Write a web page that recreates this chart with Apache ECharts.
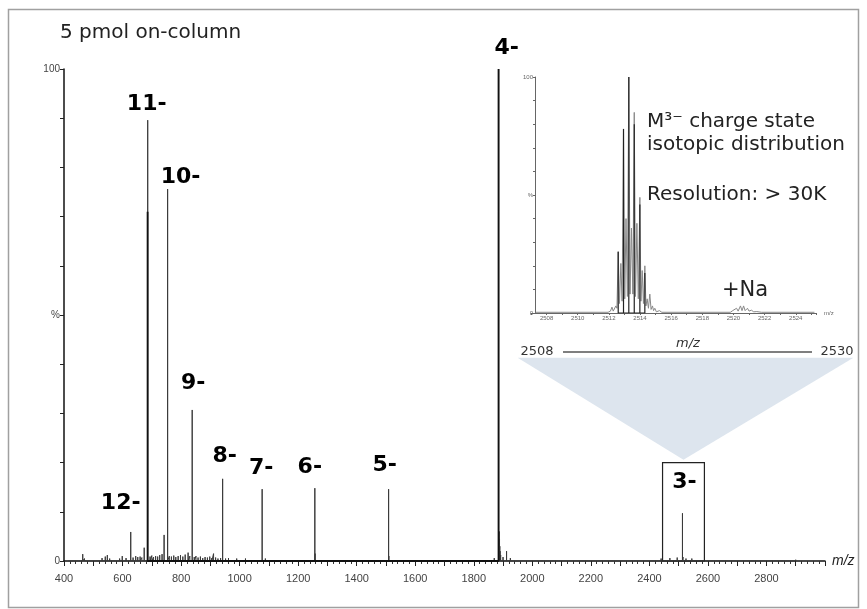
<!DOCTYPE html>
<html><head><meta charset="utf-8">
<script src="https://cdn.jsdelivr.net/npm/echarts@6/dist/echarts.min.js"></script>
<style>html,body{margin:0;padding:0;background:#fff}#c{width:867px;height:609px}</style>
</head><body><div id="c"></div>
<script>
// ---- main spectrum data ----
const chargeLabels = ['12-', '11-', '10-', '9-', '8-', '7-', '6-', '5-', '4-', '3-'];
const peakMz  = [628, 686, 754, 838, 942, 1077, 1257, 1509, 1885, 2513];
const peakInt = [5.9, 89.6, 75.6, 30.7, 16.7, 14.6, 14.8, 14.6, 100, 9.7];
const strongMz  = [685.6, 1884.6];
const strongInt = [71, 100];
const minorMz  = [464, 548, 599, 674, 742, 824, 911, 1258, 1510, 1887, 1888, 1889, 1890, 1892, 1912, 2515];
const minorInt = [1.4, 1.2, 1.0, 2.7, 5.3, 1.7, 1.5, 1.5, 1.0, 6, 4.5, 3, 2, 1.2, 2.0, 0.8];
const noiseMz = [415,430,452,470,492,512,530,541,556,572,590,612,636,645,652,660,666,694,700,706,
  713,720,727,735,760,767,775,782,790,798,806,814,830,845,851,858,866,874,882,890,
  898,905,918,926,935,952,962,975,990,1005,1020,1040,1060,1088,1110,1140,1175,1210,1240,1280,
  1320,1370,1430,1480,1540,1600,1660,1720,1780,1840,1870,1900,1925,1950,1990,2060,2150,2250,2350,2440,
  2470,2495,2525,2545,2570,2650,2750,2900];
const noiseInt = [0.3,0.4,0.3,0.5,0.3,0.4,0.6,0.9,0.5,0.4,0.5,0.6,0.7,1.0,0.8,0.9,0.7,0.9,1.1,0.8,
  1.0,0.9,1.2,1.4,1.0,0.9,1.1,0.8,1.0,1.2,0.9,1.3,1.0,0.8,1.0,0.7,0.9,0.6,0.8,0.7,
  0.9,0.6,0.7,0.5,0.6,0.5,0.6,0.4,0.5,0.4,0.5,0.4,0.4,0.5,0.3,0.4,0.3,0.4,0.3,0.3,
  0.4,0.3,0.3,0.3,0.3,0.3,0.3,0.3,0.4,0.3,0.6,0.8,0.6,0.4,0.3,0.3,0.3,0.3,0.3,0.5,
  0.6,0.7,0.5,0.5,0.4,0.3,0.3,0.3];
const xTickLabels = [400,600,800,1000,1200,1400,1600,1800,2000,2200,2400,2600,2800];
const boxRange = [2445, 2588, 20];           // zoom box around 3- (m/z from, m/z to, % height)
const apexPoint = [2516.5, 20.6];
const fanTop = [[1950, 41.3], [3097, 41.3]];

// ---- inset (M3- isotopic distribution) ----
const insetMz = [2507.3,2511.95,2512.1,2512.2,2512.28,2512.38,2512.45,2512.52,2512.6,2512.68,2512.77,2512.85,
  2512.94,2513.02,2513.1,2513.19,2513.28,2513.36,2513.45,2513.54,2513.63,2513.71,2513.8,2513.89,2513.99,
  2514.06,2514.14,2514.22,2514.31,2514.38,2514.46,2514.54,2514.63,2514.71,2514.8,2514.87,2514.95,2515.05,
  2515.25,2515.4,2519.8,2519.95,2520.05,2520.2,2520.3,2520.45,2520.55,2520.65,2520.75,2520.9,2521.0,
  2521.15,2521.3,2521.5,2521.8,2525.2];
const insetInt = [0.3,0.3,0.8,2.5,0.8,1.5,3,2,26,4,21,5,
  78,6,40,7,100,8,36,8,85,7,38,6,49,
  5,18,4,20,3,6,2,8,1.5,3,1,2,0.5,
  1,0.3,0.3,1.0,0.4,2,0.8,3,1,3,1,2,0.8,
  1.2,0.5,0.6,0.3,0.3];
const stickMz  = [2512.6, 2512.94, 2513.28, 2513.63, 2513.99, 2514.31];
const stickInt = [26, 78, 100, 80, 46, 17];
const insetTickLabels = [2508,2510,2512,2514,2516,2518,2520,2522,2524];

// ---- styles (kept apart from data) ----
const labelOffsets = {'12-':[-10,-29],'11-':[-1,-16],'10-':[13,-12],'9-':[1,-27],'8-':[2,-23],
  '7-':[-1,-21],'6-':[-5,-21],'5-':[-4,-24],'4-':[8,-21],'3-':[2,-31]};

function sticks(mz, it) {
  const pts = mz.map((m, i) => [m, it[i]]).sort((a, b) => a[0] - b[0]);
  const out = [];
  pts.forEach(p => { out.push([p[0], 0], [p[0], p[1]], [p[0], 0]); });
  return out;
}
const allMz = peakMz.concat(minorMz, noiseMz);
const allInt = peakInt.concat(minorInt, noiseInt);

const chart = echarts.init(document.getElementById('c'), null, {renderer: 'canvas'});
const axisFont = 'Liberation Sans';
const option = {
  animation: false,
  backgroundColor: '#fff',
  grid: [
    {left: 64, right: 42, top: 69, bottom: 48},
    {left: 531, right: 51, top: 77, bottom: 296}
  ],
  xAxis: [
    {type: 'value', gridIndex: 0, min: 400, max: 3000, interval: 100,
     name: 'm/z', nameLocation: 'end', nameGap: 7,
     nameTextStyle: {fontStyle: 'italic', fontSize: 14, color: '#222', fontFamily: axisFont},
     axisLine: {lineStyle: {color: '#111', width: 1.5}},
     axisTick: {length: 5, lineStyle: {color: '#222'}},
     minorTick: {show: true, splitNumber: 5, length: 3, lineStyle: {color: '#333'}},
     splitLine: {show: false},
     axisLabel: {margin: 12, fontSize: 11, color: '#444', fontFamily: axisFont,
       formatter: v => xTickLabels.includes(v) ? String(v) : ''}},
    {type: 'value', gridIndex: 1, min: 2507, max: 2525.3, interval: 1,
     name: 'm/z', nameLocation: 'end', nameGap: 8,
     nameTextStyle: {fontSize: 6, color: '#666', fontFamily: axisFont},
     axisLine: {lineStyle: {color: '#666', width: 1}},
     axisTick: {length: 2, lineStyle: {color: '#666'}},
     splitLine: {show: false},
     axisLabel: {margin: 2, fontSize: 6, color: '#666', fontFamily: axisFont,
       formatter: v => insetTickLabels.includes(v) ? String(v) : ''}}
  ],
  yAxis: [
    {type: 'value', gridIndex: 0, min: 0, max: 100, interval: 10,
     axisLine: {show: true, lineStyle: {color: '#111', width: 1.5}},
     axisTick: {show: true, length: 4, lineStyle: {color: '#222'}},
     splitLine: {show: false},
     axisLabel: {margin: 4, fontSize: 10, color: '#444', fontFamily: axisFont,
       formatter: v => v === 0 ? '0' : v === 100 ? '100' : v === 50 ? '%' : ''}},
    {type: 'value', gridIndex: 1, min: 0, max: 100, interval: 10, offset: -4,
     axisLine: {show: true, lineStyle: {color: '#666', width: 1}},
     axisTick: {show: true, length: 2, lineStyle: {color: '#666'}},
     splitLine: {show: false},
     axisLabel: {margin: 2, fontSize: 6, color: '#666', fontFamily: axisFont,
       formatter: v => v === 0 ? '0' : v === 100 ? '100' : v === 50 ? '%' : ''}}
  ],
  series: [
    {type: 'line', xAxisIndex: 0, yAxisIndex: 0, data: sticks(allMz, allInt),
     showSymbol: false, symbol: 'none', lineStyle: {color: '#3a3a3a', width: 1}, z: 3, silent: true,
     markArea: {silent: true, itemStyle: {color: 'rgba(0,0,0,0)', borderColor: '#222', borderWidth: 1.2},
       data: [[{xAxis: boxRange[0], yAxis: 0}, {xAxis: boxRange[1], yAxis: boxRange[2]}]]}},
    {type: 'line', xAxisIndex: 0, yAxisIndex: 0, data: sticks(strongMz, strongInt),
     showSymbol: false, symbol: 'none', lineStyle: {color: '#111', width: 1.8}, z: 4, silent: true},
    {type: 'scatter', xAxisIndex: 0, yAxisIndex: 0, symbolSize: 1, z: 10, silent: true,
     itemStyle: {color: 'rgba(0,0,0,0)'},
     data: peakMz.map((m, i) => ({value: [m, peakInt[i]], label: {offset: labelOffsets[chargeLabels[i]]}})),
     label: {show: true, position: 'inside', fontSize: 22, fontWeight: 'bold', fontFamily: 'DejaVu Sans',
       color: '#000', opacity: 1, formatter: p => chargeLabels[p.dataIndex]}},
    {type: 'line', xAxisIndex: 1, yAxisIndex: 1, data: insetMz.map((m, i) => [m, insetInt[i]]),
     showSymbol: false, symbol: 'none', lineStyle: {color: '#888', width: 1}, z: 3, silent: true},
    {type: 'line', xAxisIndex: 1, yAxisIndex: 1, data: sticks(stickMz, stickInt),
     showSymbol: false, symbol: 'none', lineStyle: {color: '#222', width: 1.2}, z: 4, silent: true}
  ]
};
chart.setOption(option);

const conv = p => chart.convertToPixel({gridIndex: 0}, p);
const t1 = conv(fanTop[0]), t2 = conv(fanTop[1]), ap = conv(apexPoint);
const txt = (text, x, y, font, extra) => Object.assign({type: 'text', silent: true,
  style: Object.assign({text, x, y, font, fill: '#222', textAlign: 'left', textVerticalAlign: 'middle'}, extra || {})});
chart.setOption({
  graphic: [
    {type: 'rect', silent: true, z: -10, shape: {x: 8.5, y: 9.5, width: 850, height: 598},
     style: {fill: 'none', stroke: '#a0a0a0', lineWidth: 1.5}},
    {type: 'polygon', silent: true, z: -5, shape: {points: [t1, t2, ap]}, style: {fill: '#dde5ee'}},
    {type: 'line', silent: true, shape: {x1: 563, y1: 352, x2: 812, y2: 352}, style: {stroke: '#555', lineWidth: 1.5}},
    txt('2508', 537, 352, '13px DejaVu Sans', {textAlign: 'center', fill: '#333'}),
    txt('2530', 837, 352, '13px DejaVu Sans', {textAlign: 'center', fill: '#333'}),
    txt('m/z', 688, 344, 'italic 13px DejaVu Sans', {textAlign: 'center', fill: '#333'}),
    txt('5 pmol on-column', 60, 33, '20px DejaVu Sans'),
    txt('M³⁻ charge state', 647, 122, '20px DejaVu Sans'),
    txt('isotopic distribution', 647, 145, '20px DejaVu Sans'),
    txt('Resolution: > 30K', 647, 195, '20px DejaVu Sans'),
    txt('+Na', 722, 291, '21px DejaVu Sans')
  ]
});
</script></body></html>
